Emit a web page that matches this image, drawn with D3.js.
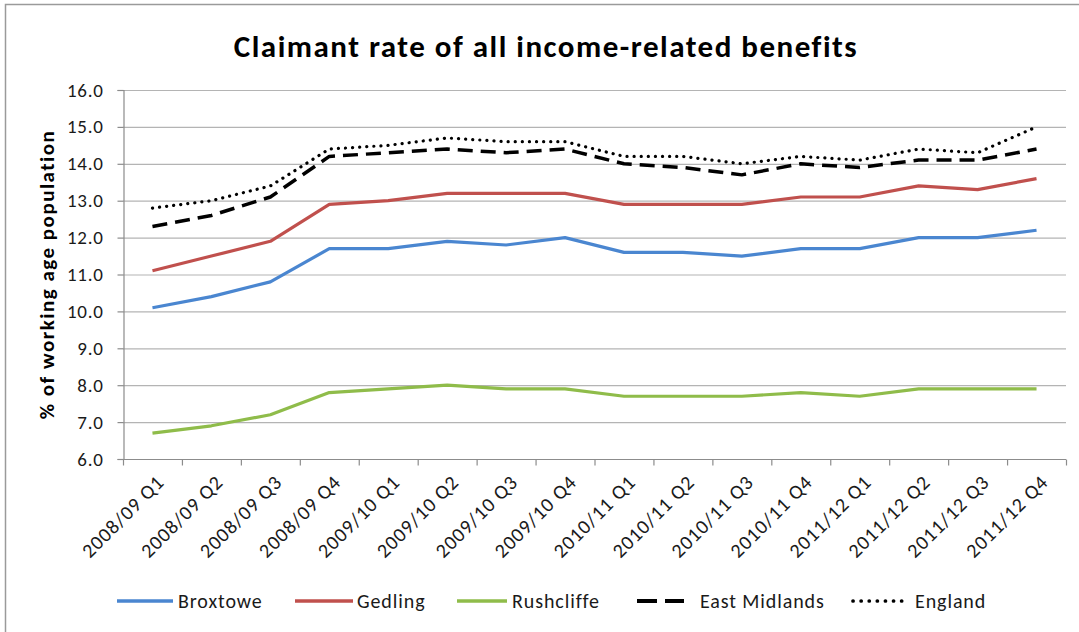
<!DOCTYPE html>
<html>
<head>
<meta charset="utf-8">
<script src="https://cdn.jsdelivr.net/npm/d3@7/dist/d3.min.js"></script>
<style>
  html, body { margin: 0; padding: 0; background: #fff; }
  svg { display: block; font-family: Carlito, Lato, "Open Sans", sans-serif; }
</style>
</head>
<body>
<svg id="chart" width="1079" height="632"></svg>
<script>
// Quarterly periods on the x axis
const quarters = [
  "2008/09 Q1", "2008/09 Q2", "2008/09 Q3", "2008/09 Q4",
  "2009/10 Q1", "2009/10 Q2", "2009/10 Q3", "2009/10 Q4",
  "2010/11 Q1", "2010/11 Q2", "2010/11 Q3", "2010/11 Q4",
  "2011/12 Q1", "2011/12 Q2", "2011/12 Q3", "2011/12 Q4"
];

// Claimant rate (% of working age population) by area
const broxtowe     = [10.1, 10.4, 10.8, 11.7, 11.7, 11.9, 11.8, 12.0, 11.6, 11.6, 11.5, 11.7, 11.7, 12.0, 12.0, 12.2];
const gedling      = [11.1, 11.5, 11.9, 12.9, 13.0, 13.2, 13.2, 13.2, 12.9, 12.9, 12.9, 13.1, 13.1, 13.4, 13.3, 13.6];
const rushcliffe   = [6.7, 6.9, 7.2, 7.8, 7.9, 8.0, 7.9, 7.9, 7.7, 7.7, 7.7, 7.8, 7.7, 7.9, 7.9, 7.9];
const eastMidlands = [12.3, 12.6, 13.1, 14.2, 14.3, 14.4, 14.3, 14.4, 14.0, 13.9, 13.7, 14.0, 13.9, 14.1, 14.1, 14.4];
const england      = [12.8, 13.0, 13.4, 14.4, 14.5, 14.7, 14.6, 14.6, 14.2, 14.2, 14.0, 14.2, 14.1, 14.4, 14.3, 15.0];

// Y axis tick values
const yTicks = [6, 7, 8, 9, 10, 11, 12, 13, 14, 15, 16];

const series = [
  { name: "Broxtowe",      values: broxtowe,     color: "#4a86d0", width: 3.2, dash: null },
  { name: "Gedling",       values: gedling,      color: "#c0504d", width: 3.2, dash: null },
  { name: "Rushcliffe",    values: rushcliffe,   color: "#8fbc4a", width: 3.2, dash: null },
  { name: "East Midlands", values: eastMidlands, color: "#000000", width: 3.5, dash: "15 8" },
  { name: "England",       values: england,      color: "#000000", width: 3.2, dash: "0.1 7", cap: "round" }
];

const svg = d3.select("#chart");

// Outer chart frame
svg.append("rect")
  .attr("x", 5.5).attr("y", 4.5)
  .attr("width", 1100).attr("height", 660)
  .attr("fill", "#fff")
  .attr("stroke", "#9a9a9a").attr("stroke-width", 1.5);

const plot = { left: 123, right: 1066, top: 90, bottom: 459 };

const x = d3.scaleBand().domain(quarters).range([plot.left, plot.right]);
const y = d3.scaleLinear().domain([6, 16]).range([plot.bottom, plot.top]);

// Horizontal gridlines
svg.append("g")
  .selectAll("line")
  .data(yTicks.filter(d => d > 6))
  .join("line")
  .attr("x1", plot.left).attr("x2", plot.right)
  .attr("y1", d => y(d) + 0.5).attr("y2", d => y(d) + 0.5)
  .attr("stroke", "#b4b4b4").attr("stroke-width", 1.2);

// Y axis
const yAxis = svg.append("g")
  .attr("transform", `translate(${plot.left + 0.5},0)`)
  .call(d3.axisLeft(y).tickValues(yTicks).tickFormat(d3.format(".1f")).tickSize(6).tickPadding(14));
yAxis.select(".domain").attr("stroke", "#8c8c8c").attr("stroke-width", 1.2);
yAxis.selectAll(".tick line").attr("stroke", "#8c8c8c").attr("stroke-width", 1.2);
yAxis.selectAll(".tick text")
  .attr("font-size", 19).attr("letter-spacing", 0.7).attr("fill", "#1a1a1a")
  .attr("font-family", "Carlito, Lato, sans-serif");

// X axis: ticks at category boundaries
const xAxisG = svg.append("g").attr("transform", `translate(0,${plot.bottom + 0.5})`);
xAxisG.append("line")
  .attr("x1", plot.left).attr("x2", plot.right)
  .attr("stroke", "#8c8c8c").attr("stroke-width", 1.2);
const boundaries = quarters.map(q => x(q)).concat([x(quarters[quarters.length - 1]) + x.bandwidth()]);
xAxisG.selectAll("line.tk")
  .data(boundaries)
  .join("line")
  .attr("class", "tk")
  .attr("x1", d => d + 0.5).attr("x2", d => d + 0.5)
  .attr("y1", 0).attr("y2", 6)
  .attr("stroke", "#8c8c8c").attr("stroke-width", 1.2);
xAxisG.selectAll("text")
  .data(quarters)
  .join("text")
  .attr("transform", d => `translate(${x(d) + x.bandwidth() / 2 + 8},${19}) rotate(-45)`)
  .attr("text-anchor", "end")
  .attr("dy", "0.35em")
  .attr("font-size", 20).attr("letter-spacing", 1).attr("fill", "#1a1a1a")
  .text(d => d);

// Series lines
const line = d3.line()
  .x((d, i) => x(quarters[i]) + x.bandwidth() / 2)
  .y(d => y(d));

svg.append("g")
  .selectAll("path")
  .data(series)
  .join("path")
  .attr("d", s => line(s.values))
  .attr("fill", "none")
  .attr("stroke", s => s.color)
  .attr("stroke-width", s => s.width)
  .attr("stroke-dasharray", s => s.dash)
  .attr("stroke-linecap", s => s.cap || "butt")
  .attr("stroke-linejoin", "round");

// Title
svg.append("text")
  .attr("x", 546).attr("y", 57)
  .attr("text-anchor", "middle")
  .attr("font-size", 31).attr("letter-spacing", 1.5).attr("font-weight", "bold").attr("fill", "#000")
  .text("Claimant rate of all income-related benefits");

// Y axis title
svg.append("text")
  .attr("transform", `translate(47,${(plot.top + plot.bottom) / 2}) rotate(-90)`)
  .attr("text-anchor", "middle")
  .attr("dy", "0.35em")
  .attr("font-size", 21).attr("letter-spacing", 1.5).attr("font-weight", "bold").attr("fill", "#000")
  .text("% of working age population");

// Legend
const legendItems = [
  { s: series[0], x0: 117, x1: 173, tx: 178 },
  { s: series[1], x0: 295, x1: 353, tx: 357 },
  { s: series[2], x0: 457, x1: 507, tx: 512 },
  { s: series[3], x0: 637, x1: 684, tx: 700 },
  { s: series[4], x0: 853, x1: 909, tx: 915 }
];
const legendY = 601;
const lg = svg.append("g");
lg.selectAll("line")
  .data(legendItems)
  .join("line")
  .attr("x1", d => d.x0).attr("x2", d => d.x1)
  .attr("y1", legendY).attr("y2", legendY)
  .attr("stroke", d => d.s.color)
  .attr("stroke-width", d => d.s.width + 0.5)
  .attr("stroke-dasharray", d => d.s.dash ? (d.s.cap ? "0.1 8" : "20 8") : null)
  .attr("stroke-linecap", d => d.s.cap || "butt");
lg.selectAll("text")
  .data(legendItems)
  .join("text")
  .attr("x", d => d.tx).attr("y", legendY)
  .attr("dy", "0.35em")
  .attr("font-size", 20).attr("letter-spacing", 0.9).attr("fill", "#1a1a1a")
  .text(d => d.s.name);
</script>
</body>
</html>
